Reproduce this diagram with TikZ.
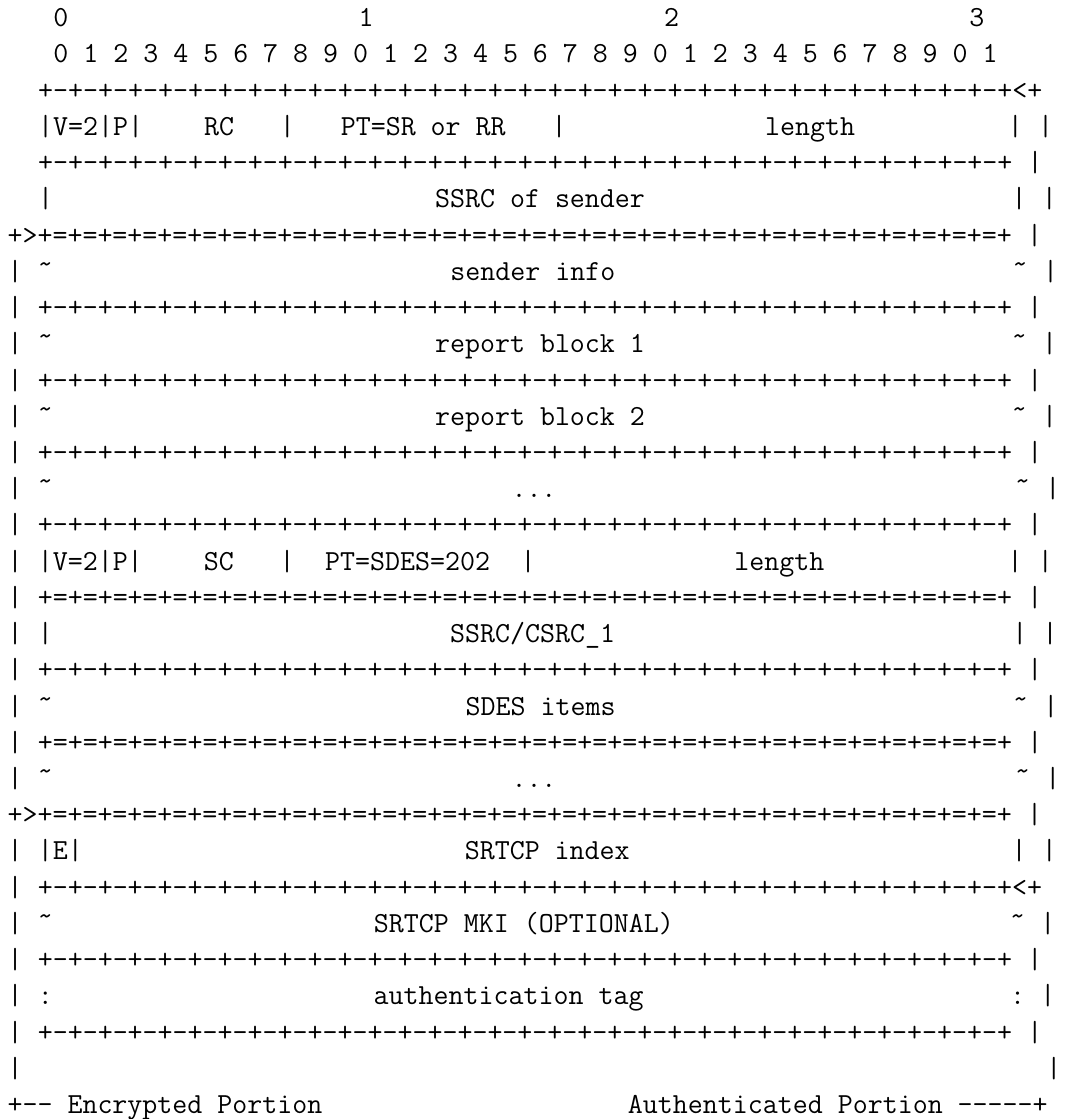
\documentclass[tikz,border=0pt]{standalone}
\usepackage{fontspec}
\setmonofont{Latin Modern Mono}
\newlength\cw
\setlength\cw{11.46pt}
\newcommand\asciifont{\ttfamily\fontsize{21.83pt}{26pt}\selectfont}
\newcommand\sk[1]{\hspace*{#1\cw}}
\newcommand\tld{\makebox[\cw]{\char"02DC}}
\newcommand\myDeight{+-+-+-+-+-+-+-+-}
\newcommand\myEeight{+=+=+=+=+=+=+=+=}
\newcommand\dashes{\myDeight\myDeight\myDeight\myDeight+}
\newcommand\eqs{\myEeight\myEeight\myEeight\myEeight+}
\begin{document}
\begin{tikzpicture}[x=0.75pt,y=0.75pt,
  ascii/.style={anchor=base west, inner sep=0pt, outer sep=0pt, font=\asciifont}]
\fill[white] (0,0) rectangle (1067,-1119);
\useasboundingbox (0,0) rectangle (1067,-1119);
\def\X{7.56}
\node[ascii] (l0)  at (\X,{-26.7-36.23*0})  {\sk{3}0\sk{19}1\sk{19}2\sk{19}3};
\node[ascii] (l1)  at (\X,{-26.7-36.23*1})  {\sk{3}0 1 2 3 4 5 6 7 8 9 0 1 2 3 4 5 6 7 8 9 0 1 2 3 4 5 6 7 8 9 0 1};
\node[ascii] (l2)  at (\X,{-26.7-36.23*2})  {\sk{2}\dashes<+};
\node[ascii] (l3)  at (\X,{-26.7-36.23*3})  {\sk{2}|V=2|P|\sk{4}RC\sk{3}|\sk{3}PT=SR or RR\sk{3}|\sk{13}length\sk{10}|\sk{1}|};
\node[ascii] (l4)  at (\X,{-26.7-36.23*4})  {\sk{2}\dashes\sk{1}|};
\node[ascii] (l5)  at (\X,{-26.7-36.23*5})  {\sk{2}|\sk{25}SSRC of sender\sk{24}|\sk{1}|};
\node[ascii] (l6)  at (\X,{-26.7-36.23*6})  {+>\eqs\sk{1}|};
\node[ascii] (l7)  at (\X,{-26.7-36.23*7})  {|\sk{1}\tld\sk{26}sender info\sk{26}\tld\sk{1}|};
\node[ascii] (l8)  at (\X,{-26.7-36.23*8})  {|\sk{1}\dashes\sk{1}|};
\node[ascii] (l9)  at (\X,{-26.7-36.23*9})  {|\sk{1}\tld\sk{25}report block 1\sk{24}\tld\sk{1}|};
\node[ascii] (l10) at (\X,{-26.7-36.23*10}) {|\sk{1}\dashes\sk{1}|};
\node[ascii] (l11) at (\X,{-26.7-36.23*11}) {|\sk{1}\tld\sk{25}report block 2\sk{24}\tld\sk{1}|};
\node[ascii] (l12) at (\X,{-26.7-36.23*12}) {|\sk{1}\dashes\sk{1}|};
\node[ascii] (l13) at (\X,{-26.7-36.23*13}) {|\sk{1}\tld\sk{30}...\sk{30}\tld\sk{1}|};
\node[ascii] (l14) at (\X,{-26.7-36.23*14}) {|\sk{1}\dashes\sk{1}|};
\node[ascii] (l15) at (\X,{-26.7-36.23*15}) {|\sk{1}|V=2|P|\sk{4}SC\sk{3}|\sk{2}PT=SDES=202\sk{2}|\sk{13}length\sk{12}|\sk{1}|};
\node[ascii] (l16) at (\X,{-26.7-36.23*16}) {|\sk{1}\eqs\sk{1}|};
\node[ascii] (l17) at (\X,{-26.7-36.23*17}) {|\sk{1}|\sk{26}SSRC/CSRC\_1\sk{26}|\sk{1}|};
\node[ascii] (l18) at (\X,{-26.7-36.23*18}) {|\sk{1}\dashes\sk{1}|};
\node[ascii] (l19) at (\X,{-26.7-36.23*19}) {|\sk{1}\tld\sk{27}SDES items\sk{26}\tld\sk{1}|};
\node[ascii] (l20) at (\X,{-26.7-36.23*20}) {|\sk{1}\eqs\sk{1}|};
\node[ascii] (l21) at (\X,{-26.7-36.23*21}) {|\sk{1}\tld\sk{30}...\sk{30}\tld\sk{1}|};
\node[ascii] (l22) at (\X,{-26.7-36.23*22}) {+>\eqs\sk{1}|};
\node[ascii] (l23) at (\X,{-26.7-36.23*23}) {|\sk{1}|E|\sk{25}SRTCP index\sk{25}|\sk{1}|};
\node[ascii] (l24) at (\X,{-26.7-36.23*24}) {|\sk{1}\dashes<+};
\node[ascii] (l25) at (\X,{-26.7-36.23*25}) {|\sk{1}\tld\sk{21}SRTCP MKI (OPTIONAL)\sk{22}\tld\sk{1}|};
\node[ascii] (l26) at (\X,{-26.7-36.23*26}) {|\sk{1}\dashes\sk{1}|};
\node[ascii] (l27) at (\X,{-26.7-36.23*27}) {|\sk{1}:\sk{21}authentication tag\sk{24}:\sk{1}|};
\node[ascii] (l28) at (\X,{-26.7-36.23*28}) {|\sk{1}\dashes\sk{1}|};
\node[ascii] (l29) at (\X,{-26.7-36.23*29}) {|\sk{67}|};
\node[ascii] (l30) at (\X,{-26.7-36.23*30}) {+-{}- Encrypted Portion\sk{20}Authenticated Portion -{}-{}-{}-{}-+};
\end{tikzpicture}
\end{document}
